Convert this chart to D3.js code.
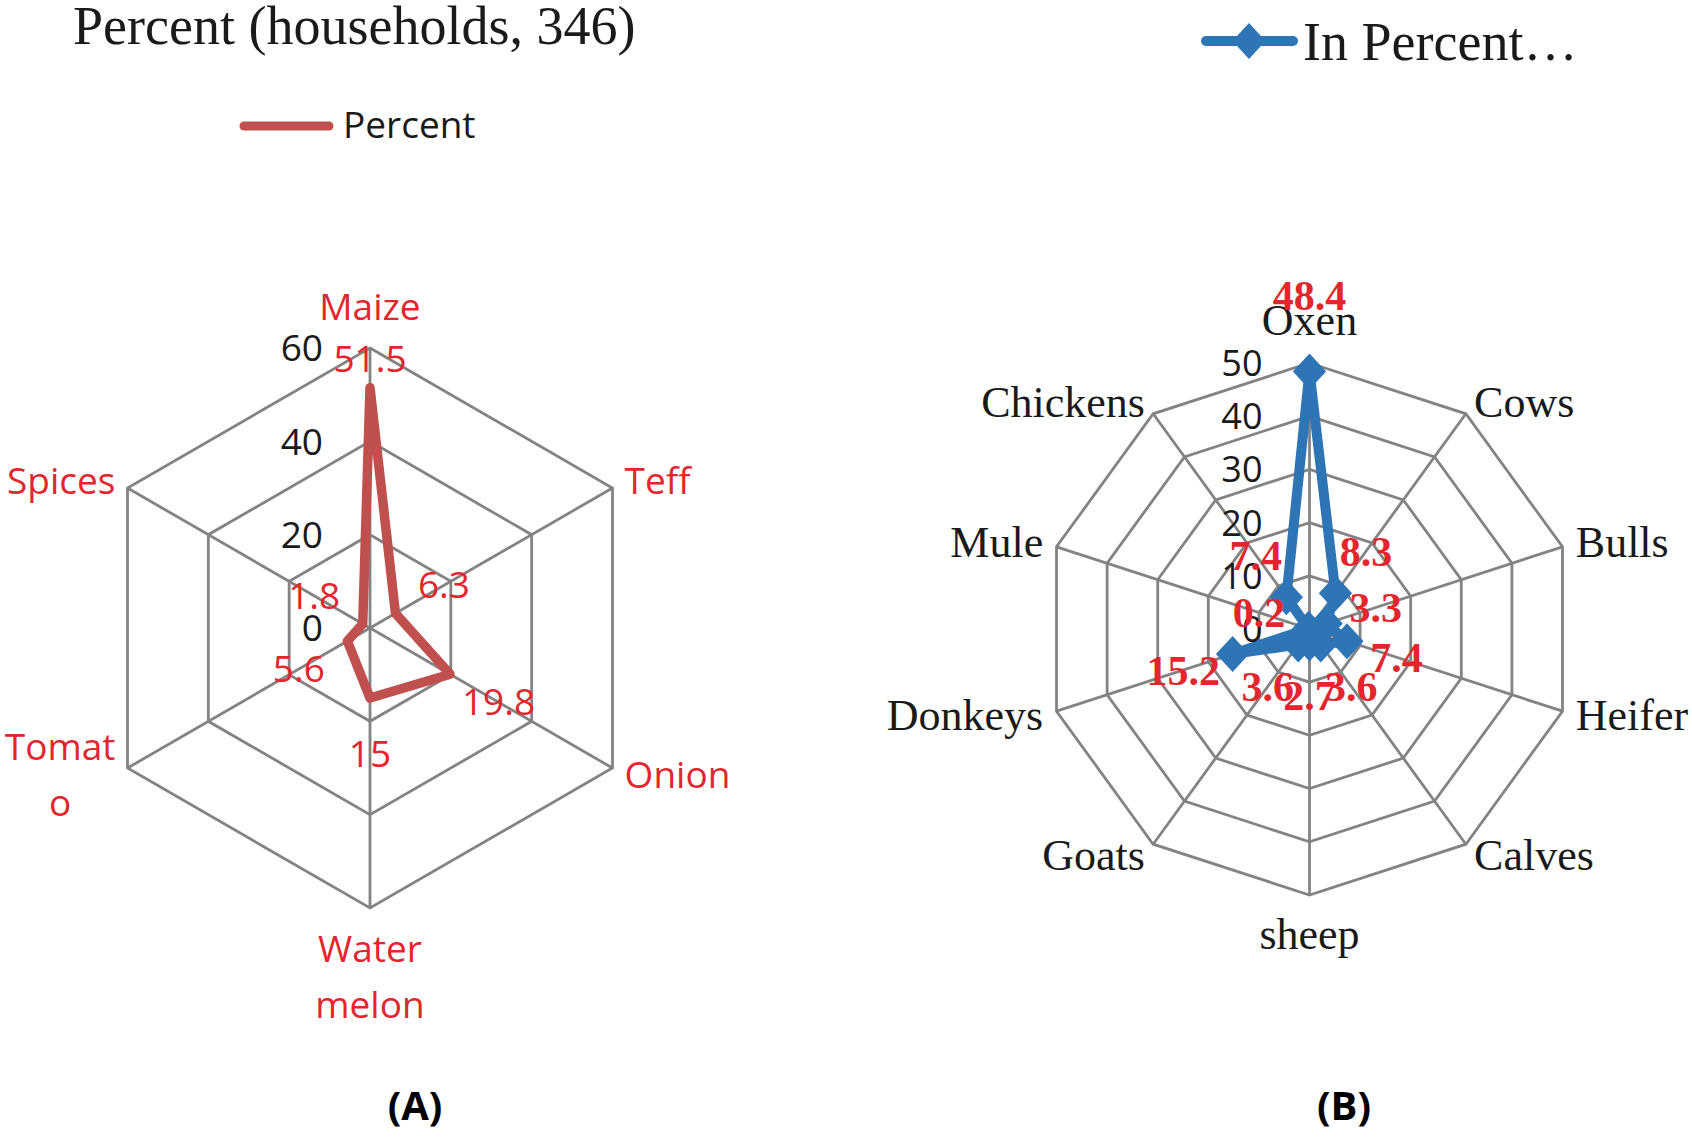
<!DOCTYPE html>
<html>
<head>
<meta charset="utf-8">
<script src="https://cdn.jsdelivr.net/npm/d3@7"></script>
<style>
  body { margin: 0; background: #fff; }
  svg { display: block; }
</style>
</head>
<body>
<div id="chart"></div>
<script>
// (A) crops
const cropNames = ["Maize", "Teff", "Onion", "Water melon", "Tomato", "Spices"];
const cropLines = [["Maize"], ["Teff"], ["Onion"], ["Water", "melon"], ["Tomat", "o"], ["Spices"]];
const cropPercent = [51.5, 6.3, 19.8, 15, 5.6, 1.8];
const cropTicks = [0, 20, 40, 60];

// (B) livestock
const stockNames = ["Oxen", "Cows", "Bulls", "Heifer", "Calves", "sheep", "Goats", "Donkeys", "Mule", "Chickens"];
const stockPercent = [48.4, 8.3, 3.3, 7.4, 3.6, 2.7, 3.6, 15.2, 0.2, 7.4];
const stockTicks = [0, 10, 20, 30, 40, 50];

const width = 1692, height = 1137;
const RED = "#e3262d", GRID = "#838383";

const svg = d3.select("#chart").append("svg")
  .attr("width", width)
  .attr("height", height);

// diamond marker a little taller than wide
const diamond = {
  draw(ctx, size) {
    const w = Math.sqrt(size) * 0.48, h = Math.sqrt(size) * 0.52;
    ctx.moveTo(0, -h); ctx.lineTo(w, 0); ctx.lineTo(0, h); ctx.lineTo(-w, 0); ctx.closePath();
  }
};

function radar(opt) {
  const n = opt.values.length,
    step = 2 * Math.PI / n,
    r = d3.scaleLinear().domain([0, d3.max(opt.ticks)]).range([0, opt.radius]);

  const g = svg.append("g").attr("transform", `translate(${opt.cx},${opt.cy})`);
  const pt = (i, rad) => [Math.sin(i * step) * rad, -Math.cos(i * step) * rad];

  const ring = d3.lineRadial()
    .angle((d, i) => i * step)
    .radius(d => r(d))
    .curve(d3.curveLinearClosed);

  // rings
  g.selectAll(".ring").data(opt.ticks.filter(t => t > 0)).join("path")
    .attr("d", t => ring(d3.range(n).map(() => t)))
    .attr("fill", "none").attr("stroke", GRID).attr("stroke-width", 2.8);

  // spokes
  g.selectAll(".spoke").data(d3.range(n)).join("line")
    .attr("x1", 0).attr("y1", 0)
    .attr("x2", i => pt(i, opt.radius)[0])
    .attr("y2", i => pt(i, opt.radius)[1])
    .attr("stroke", GRID).attr("stroke-width", 2.8);

  // series
  g.append("path")
    .attr("d", ring(opt.values))
    .attr("fill", "none")
    .attr("stroke", opt.color)
    .attr("stroke-width", opt.lineWidth)
    .attr("stroke-linejoin", "round");

  if (opt.marker) {
    g.selectAll(".mk").data(opt.values).join("path")
      .attr("d", d3.symbol().type(diamond).size(1200))
      .attr("transform", (d, i) => `translate(${pt(i, r(d))})`)
      .attr("fill", opt.color);
  }

  // tick labels
  g.selectAll(".tick").data(opt.ticks).join("text")
    .attr("x", -47)
    .attr("y", t => -r(t))
    .attr("dy", "0.36em")
    .attr("text-anchor", "end")
    .attr("font-family", "'Open Sans', sans-serif")
    .attr("font-size", opt.tickSize)
    .attr("fill", "#1a1a1a")
    .text(t => t);

  // category labels
  opt.lines.forEach((lines, i) => {
    const [x, y] = pt(i, opt.radius + 14),
      s = Math.sin(i * step), c = Math.cos(i * step);
    const t = g.append("text")
      .attr("font-family", opt.catFont)
      .attr("font-size", opt.catSize)
      .attr("fill", opt.catColor);
    let anchor = Math.abs(s) < 0.01 ? "middle" : (s > 0 ? "start" : "end");
    const base = [];
    lines.forEach((ln, k) => {
      let by;
      if (c > 0.99) by = y - 14 - (lines.length - 1 - k) * opt.lineH;
      else if (c < -0.99) by = y + 40 + k * opt.lineH;
      else by = y + opt.capH / 2 + (k - (lines.length - 1) / 2) * opt.lineH;
      base.push(by);
    });
    const spans = t.selectAll("tspan").data(lines).join("tspan")
      .attr("x", x).attr("y", (d, k) => base[k]).text(d => d);
    if (lines.length > 1 && anchor !== "middle") {
      const w = d3.max(spans.nodes(), nd => nd.getComputedTextLength());
      spans.attr("x", anchor === "end" ? x - w / 2 : x + w / 2);
      anchor = "middle";
    }
    t.attr("text-anchor", anchor);
  });

  // data labels
  g.selectAll(".val").data(opt.values).join("text")
    .attr("transform", (d, i) => `translate(${pt(i, r(d) + opt.labelDist[i])})`)
    .attr("dy", "0.35em")
    .attr("text-anchor", "middle")
    .attr("font-family", opt.valFont)
    .attr("font-weight", opt.valWeight)
    .attr("font-size", opt.valSize)
    .attr("fill", RED)
    .text(d => d);
}

radar({
  cx: 370, cy: 628, radius: 280,
  values: cropPercent, ticks: cropTicks, lines: cropLines,
  color: "#c0504d", lineWidth: 9.5, marker: false,
  tickSize: 37,
  catFont: "'Open Sans', sans-serif", catSize: 37, catColor: RED, capH: 26, lineH: 56,
  valFont: "'Open Sans', sans-serif", valWeight: 400, valSize: 37,
  labelDist: [29, 56, 56, 56, 56, 56]
});

radar({
  cx: 1309.5, cy: 629, radius: 266,
  values: stockPercent, ticks: stockTicks, lines: stockNames.map(d => [d]),
  color: "#2e75b6", lineWidth: 10, marker: true,
  tickSize: 36,
  catFont: "'Liberation Serif', 'Times New Roman', serif", catSize: 44, catColor: "#1a1a1a", capH: 29, lineH: 50,
  valFont: "'Liberation Serif', 'Times New Roman', serif", valWeight: 700, valSize: 42,
  labelDist: [76, 52, 52, 52, 52, 52, 52, 52, 52, 52]
});

// title and legends
svg.append("text")
  .attr("x", 73).attr("y", 44)
  .attr("font-family", "'Liberation Serif', 'Times New Roman', serif")
  .attr("font-size", 54)
  .attr("fill", "#1a1a1a")
  .text("Percent (households, 346)");

svg.append("line")
  .attr("x1", 244).attr("x2", 329).attr("y1", 126).attr("y2", 126)
  .attr("stroke", "#c0504d").attr("stroke-width", 9).attr("stroke-linecap", "round");
svg.append("text")
  .attr("x", 343).attr("y", 138)
  .attr("font-family", "'Open Sans', sans-serif")
  .attr("font-size", 37)
  .attr("fill", "#1a1a1a")
  .text("Percent");

svg.append("line")
  .attr("x1", 1206).attr("x2", 1293).attr("y1", 41).attr("y2", 41)
  .attr("stroke", "#2e75b6").attr("stroke-width", 10).attr("stroke-linecap", "round");
svg.append("path")
  .attr("d", d3.symbol().type(diamond).size(1200))
  .attr("transform", "translate(1249,41)")
  .attr("fill", "#2e75b6");
svg.append("text")
  .attr("x", 1303).attr("y", 60)
  .attr("font-family", "'Liberation Serif', 'Times New Roman', serif")
  .attr("font-size", 54)
  .attr("fill", "#1a1a1a")
  .text("In Percent…");

svg.selectAll(".panel").data(["(A)", "(B)"]).join("text")
  .attr("x", (d, i) => i ? 1344 : 415)
  .attr("y", 1120)
  .attr("text-anchor", "middle")
  .attr("font-family", "'Open Sans', sans-serif")
  .attr("font-weight", 700)
  .attr("font-size", 40)
  .attr("fill", "#000")
  .text(d => d);
</script>
</body>
</html>
